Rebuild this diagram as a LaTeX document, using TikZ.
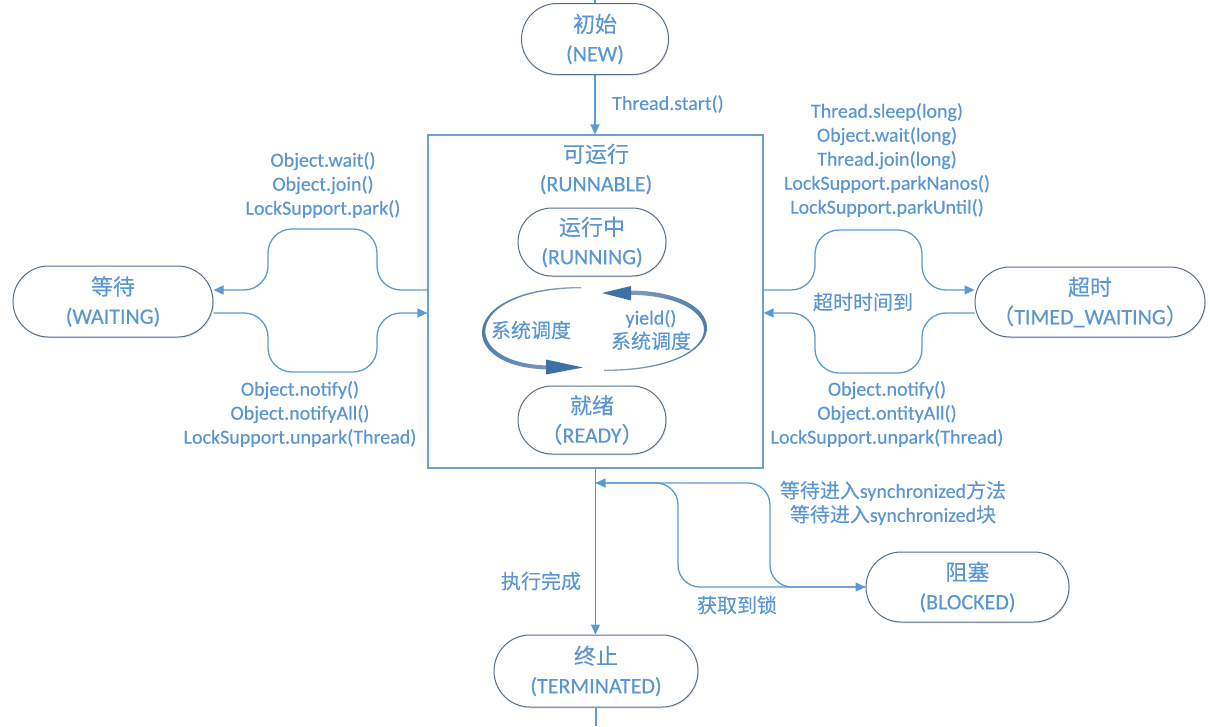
\documentclass[tikz,border=0pt]{standalone}
\usepackage{fontspec}
\setmainfont{Carlito}[FakeBold=0.25]
\newfontfamily\cjk{Noto Sans CJK SC}[FakeBold=0.15]
\usetikzlibrary{arrows.meta,shapes.misc,calc,shadows}
\definecolor{txtblue}{HTML}{5A96D2}
\definecolor{lineblue}{HTML}{5B9BD5}
\definecolor{nodeedge}{HTML}{56708C}
\definecolor{boxedge}{HTML}{6E9FD3}
\definecolor{cycblue}{HTML}{3E70A8}
\definecolor{cyclight}{HTML}{8FA6BE}
\begin{document}
\begin{tikzpicture}[x=1pt,y=-1pt,
 state/.style={rounded rectangle, draw=nodeedge, line width=1pt, fill=white,
   inner sep=0pt, align=center, text=txtblue, font=\fontsize{22}{29}\selectfont,
   drop shadow={shadow xshift=1pt, shadow yshift=-1.5pt, opacity=0.15, fill=gray}},
 lbl/.style={text=txtblue, align=center, font=\fontsize{20}{24}\selectfont, inner sep=0pt},
 flow/.style={draw=lineblue, line width=1.3pt, rounded corners=24pt, -{Triangle[length=10pt,width=9pt]}},
 plain/.style={draw=lineblue, line width=1.3pt}
]
\fill[white] (0,0) rectangle (1210,726);
\useasboundingbox (0,0) rectangle (1210,726);

% runnable box
\node[draw=boxedge, line width=1.2pt, minimum width=335pt, minimum height=333pt, inner sep=0pt] (run) at (595.5,301.5) {};
\node[lbl, font=\fontsize{22}{29}\selectfont] (runtitle) at (596,169) {{\cjk 可运行}\\(RUNNABLE)};

% states
\node[state, minimum width=147pt, minimum height=71pt] (new) at (595,39) {{\cjk 初始}\\(NEW)};
\node[state, minimum width=148pt, minimum height=68pt] (running) at (592,242) {{\cjk 运行中}\\(RUNNING)};
\node[state, minimum width=148pt, minimum height=68pt] (ready) at (592,420) {{\cjk 就绪}\\{\cjk （}READY{\cjk ）}};
\node[state, minimum width=200pt, minimum height=71pt] (wait) at (113,301.5) {{\cjk 等待}\\(WAITING)};
\node[state, minimum width=230pt, minimum height=70pt] (timed) at (1090,302) {{\cjk 超时}\\{\cjk （}TIMED\_WAITING{\cjk ）}};
\node[state, minimum width=203pt, minimum height=70pt] (blocked) at (967.5,587) {{\cjk 阻塞}\\(BLOCKED)};
\node[state, minimum width=204pt, minimum height=72pt] (term) at (596,671) {{\cjk 终止}\\(TERMINATED)};

% stubs
\coordinate (topedge) at (595,0);
\coordinate (botedge) at (596,726);
\draw[plain] (topedge) -- (new.north);
\draw[plain] (term.south) -- (botedge);

% new -> runnable
\draw[flow] (new.south) -- (new.south |- run.north);
\node[lbl, anchor=west] (startlbl) at (612,104) {Thread.start()};

% cycle (tapered arcs with long heads)
\shade[left color=cycblue, right color=cyclight, draw=none]
  (581,287) .. controls (455,287) and (454,369.5) .. (551,369.5)
  -- (551,365.5) .. controls (458.5,365.5) and (459.5,288.6) .. (581,288.3) -- cycle;
\fill[cycblue] (546,359.5) -- (583,367.5) -- (546,374.5) -- cycle;
\shade[left color=cyclight, right color=cycblue, draw=none]
  (604,371) .. controls (737,371) and (737,290.5) .. (628,290.5)
  -- (628,294.8) .. controls (732.5,294.8) and (733.5,369.6) .. (604,369.7) -- cycle;
\fill[cycblue] (631,286) -- (602,293) -- (631,300.5) -- cycle;
\node[lbl] (sys1) at (531,330) {\cjk 系统调度};
\node[lbl] (sys2) at (651,330) {yield()\\{\cjk 系统调度}};

% waiting connectors
\draw[flow] (run.west |- 0,290) -- (377,290) -- (377,229) -- (268,229) -- (268,290) -- (wait.east |- 0,290);
\draw[flow] (wait.east |- 0,313) -- (268,313) -- (268,372) -- (377,372) -- (377,313) -- (run.west |- 0,313);
\node[lbl] (lu) at (323,185) {Object.wait()\\Object.join()\\LockSupport.park()};
\node[lbl] (ll) at (300,414) {Object.notify()\\Object.notifyAll()\\LockSupport.unpark(Thread)};

% timed waiting connectors
\draw[flow] (run.east |- 0,290) -- (815,290) -- (815,230) -- (922,230) -- (922,290) -- (timed.west |- 0,290);
\draw[flow] (timed.west |- 0,313) -- (922,313) -- (922,373) -- (815,373) -- (815,313) -- (run.east |- 0,313);
\node[lbl] (ru) at (887,160) {Thread.sleep(long)\\Object.wait(long)\\Thread.join(long)\\LockSupport.parkNanos()\\LockSupport.parkUntil()};
\node[lbl] (rl) at (887,414) {Object.notify()\\Object.ontityAll()\\LockSupport.unpark(Thread)};
\node[lbl] (tolbl) at (863,302) {\cjk 超时时间到};

% terminate
\draw[flow] (run.south) -- (run.south |- term.north);
\node[lbl] (donelbl) at (541,581) {\cjk 执行完成};

% blocked
\coordinate (j) at (run.south |- 0,483);
\draw[flow, rounded corners=22pt] (blocked.west) -- (770,587) -- (770,483) -- (j);
\draw[flow, rounded corners=22pt] (j) -- (678,483) -- (678,587) -- (blocked.west);
\node[lbl] (sylbl) at (893,503) {{\cjk 等待进入}synchronized{\cjk 方法}\\{\cjk 等待进入}synchronized{\cjk 块}};
\node[lbl] (locklbl) at (737,605) {\cjk 获取到锁};
\end{tikzpicture}
\end{document}
